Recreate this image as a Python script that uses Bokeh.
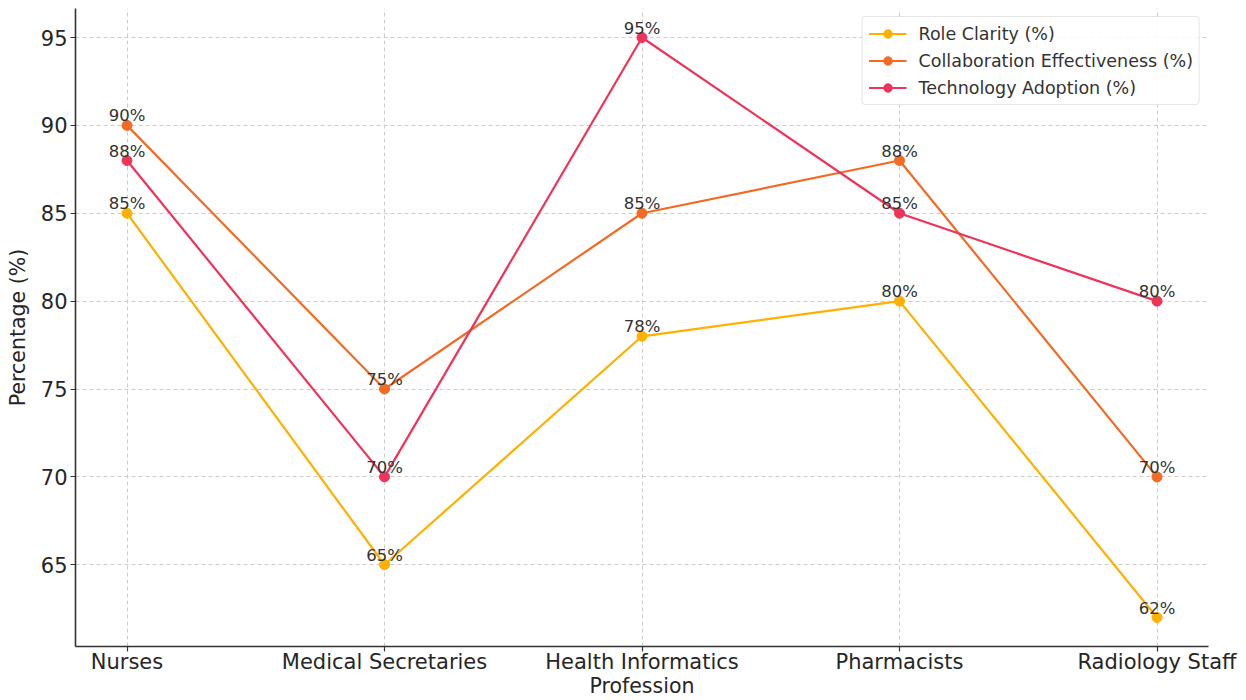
from bokeh.plotting import figure
from bokeh.models import Range1d, FixedTicker, ColumnDataSource, Legend, LegendItem
from bokeh.embed import file_html
from bokeh.resources import INLINE
from bokeh.core.properties import value

professions = ["Nurses", "Medical Secretaries", "Health Informatics", "Pharmacists", "Radiology Staff"]
role_clarity = [85, 65, 78, 80, 62]
collaboration = [90, 75, 85, 88, 70]
technology = [88, 70, 95, 85, 80]
series_names = ["Role Clarity (%)", "Collaboration Effectiveness (%)", "Technology Adoption (%)"]
series_colors = ["#FFB000", "#F46A25", "#F0335A"]
y_ticks = [65, 70, 75, 80, 85, 90, 95]

FONT = "DejaVu Sans"
p = figure(width=1238, height=700, output_backend="svg", toolbar_location=None,
           x_range=Range1d(-0.2, 4.2), y_range=Range1d(60.35, 96.65),
           min_border_left=75, min_border_right=30, min_border_top=8, min_border_bottom=10)
p.outline_line_color = None
p.background_fill_color = "white"
p.border_fill_color = "white"

xs = list(range(len(professions)))
items = []
for name, vals, col in zip(series_names, [role_clarity, collaboration, technology], series_colors):
    src = ColumnDataSource(dict(x=xs, y=vals, lab=[f"{v}%" for v in vals]))
    l = p.line("x", "y", source=src, line_color=col, line_width=2.2)
    c = p.scatter("x", "y", source=src, marker="circle", size=10, fill_color=col, line_color=col)
    p.text("x", "y", text="lab", source=src, text_align="center", text_baseline="bottom",
           y_offset=0, text_font=value(FONT), text_font_size="16.5px", text_color="#333333")
    items.append(LegendItem(label=name, renderers=[l, c]))

legend = Legend(items=items, location="top_right")
legend.label_text_font = FONT
legend.label_text_font_size = "17.5px"
legend.label_text_color = "#333333"
legend.border_line_color = "#cccccc"
legend.border_line_width = 1
legend.background_fill_alpha = 0.85
legend.glyph_width = 38
legend.glyph_height = 21
legend.label_height = 21
legend.spacing = 6
legend.padding = 6
legend.margin = 8
legend.label_standoff = 12
legend.border_radius = 4
p.add_layout(legend)

p.xaxis.ticker = FixedTicker(ticks=xs)
p.xaxis.major_label_overrides = {i: n for i, n in enumerate(professions)}
p.yaxis.ticker = FixedTicker(ticks=y_ticks)
for ax in (p.xaxis, p.yaxis):
    ax.axis_line_color = "#333333"
    ax.axis_line_width = 1.6
    ax.major_tick_line_color = "#333333"
    ax.major_tick_line_width = 1.2
    ax.major_tick_out = 5
    ax.major_tick_in = 0
    ax.minor_tick_line_color = None
    ax.major_label_text_font = FONT
    ax.major_label_text_font_size = "21px"
    ax.major_label_text_color = "#262626"
    ax.axis_label_text_font = FONT
    ax.axis_label_text_font_size = "20.5px"
    ax.axis_label_text_font_style = "normal"
    ax.axis_label_text_color = "#262626"
p.xaxis.axis_label = "Profession"
p.yaxis.axis_label = "Percentage (%)"
p.xaxis.major_label_standoff = -2
p.xaxis.axis_label_standoff = -3
p.yaxis.major_label_standoff = 3
p.yaxis.axis_label_standoff = 8

for g in (p.xgrid, p.ygrid):
    g.grid_line_color = "#cccccc"
    g.grid_line_dash = "4 3"
    g.grid_line_width = 1
p.xgrid.ticker = FixedTicker(ticks=xs)
p.ygrid.ticker = FixedTicker(ticks=y_ticks)

open("out.html", "w").write(file_html(p, INLINE))
